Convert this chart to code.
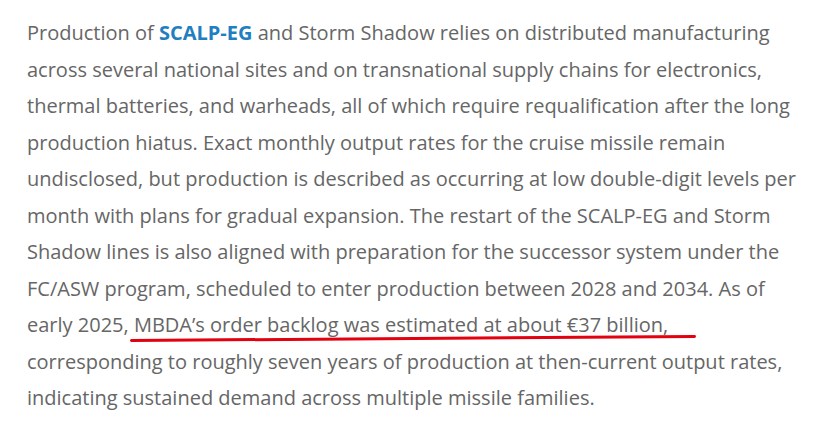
<!DOCTYPE html>
<html><head><meta charset="utf-8">
<script src="https://cdn.jsdelivr.net/npm/chart.js@4"></script>
<style>
html,body{margin:0;padding:0;background:#fff;width:831px;height:430px;overflow:hidden}
#txt{position:absolute;left:27px;top:15px;font-family:"Open Sans",sans-serif;font-size:20px;line-height:36.5px;color:#666;font-weight:400;white-space:nowrap}
#txt b{color:#1f7fc0;font-weight:700}
#ul{position:absolute;left:130px;top:339px;width:566px;height:3px;background:#e3000f;transform:rotate(-0.4deg);transform-origin:left center;border-radius:2px}
</style></head><body>
<div id="txt"></div>
<div id="ul"></div>
<script>
// paragraph lines, as wrapped in the reference
const lines = [
  'Production of <b>SCALP-EG</b> and Storm Shadow relies on distributed manufacturing',
  'across several national sites and on transnational supply chains for electronics,',
  'thermal batteries, and warheads, all of which require requalification after the long',
  'production hiatus. Exact monthly output rates for the cruise missile remain',
  'undisclosed, but production is described as occurring at low double-digit levels per',
  'month with plans for gradual expansion. The restart of the SCALP-EG and Storm',
  'Shadow lines is also aligned with preparation for the successor system under the',
  'FC/ASW program, scheduled to enter production between 2028 and 2034. As of',
  'early 2025, MBDA’s order backlog was estimated at about €37 billion,',
  'corresponding to roughly seven years of production at then-current output rates,',
  'indicating sustained demand across multiple missile families.'
];
document.getElementById('txt').innerHTML = lines.join('<br>');
</script>
</body></html>
